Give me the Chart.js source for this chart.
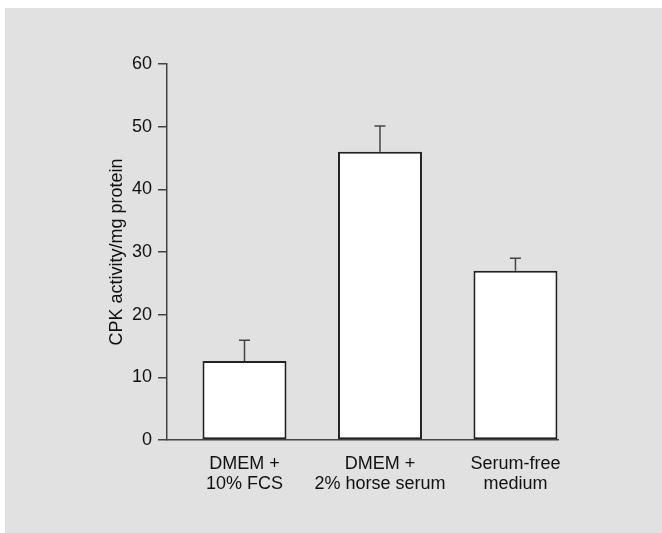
<!DOCTYPE html>
<html>
<head>
<meta charset="utf-8">
<script src="https://cdn.jsdelivr.net/npm/chart.js@4"></script>
<style>
  body { margin: 0; background: #fff; }
  #panel { position: absolute; left: 5px; top: 8px; width: 657px; height: 525px; background: #e1e1e1; }
</style>
</head>
<body>
<div id="panel"><canvas id="chart"></canvas></div>
<script>
const categories = [['DMEM +', '10% FCS'], ['DMEM +', '2% horse serum'], ['Serum-free', 'medium']];
const positions = [1, 2, 3];
const values = [12.6, 46.0, 27.0];
const errorTops = [15.9, 50.1, 29.0];
const yTicks = [0, 10, 20, 30, 40, 50, 60];

const errorBars = {
  id: 'errorBars',
  afterDatasetsDraw(chart) {
    const ctx = chart.ctx;
    const y = chart.scales.y;
    const meta = chart.getDatasetMeta(0);
    ctx.save();
    ctx.strokeStyle = '#444';
    ctx.lineWidth = 1.5;
    meta.data.forEach((bar, i) => {
      const top = y.getPixelForValue(errorTops[i]);
      ctx.beginPath();
      ctx.moveTo(bar.x, bar.y);
      ctx.lineTo(bar.x, top);
      ctx.moveTo(bar.x - 5.5, top);
      ctx.lineTo(bar.x + 5.5, top);
      ctx.stroke();
    });
    ctx.restore();
  }
};

const font = { family: '"Liberation Sans", Arial, sans-serif', size: 18, lineHeight: 1.12 };

const chart = new Chart(document.getElementById('chart'), {
  type: 'bar',
  data: {
    datasets: [{
      data: positions.map((p, i) => ({ x: p, y: values[i] })),
      backgroundColor: '#fff',
      borderColor: '#222',
      borderWidth: 2,
      borderSkipped: false,
      barPercentage: 0.62,
      categoryPercentage: 1
    }]
  },
  options: {
    responsive: true,
    maintainAspectRatio: false,
    animation: false,
    layout: { padding: { left: 102, right: 104, top: 56, bottom: 30 } },
    plugins: { legend: { display: false }, tooltip: { enabled: false } },
    scales: {
      x: {
        type: 'linear',
        offset: false,
        min: 0.428,
        max: 3.314,
        afterBuildTicks: (s) => { s.ticks = positions.map(v => ({ value: v })); },
        afterFit: (s) => { s.height = 63; },
        grid: { display: true, offset: false, drawOnChartArea: false, drawTicks: false },
        border: { color: '#444', width: 1.5 },
        ticks: {
          color: '#111',
          font: font,
          padding: 14,
          maxRotation: 0,
          autoSkip: false,
          callback: (v) => categories[positions.indexOf(v)]
        }
      },
      y: {
        min: 0,
        max: 60,
        afterBuildTicks: (s) => { s.ticks = yTicks.map(v => ({ value: v })); },
        afterFit: (s) => { s.width = 60; },
        grid: { display: true, drawOnChartArea: false, tickLength: 9, color: '#444', lineWidth: 1.5 },
        border: { color: '#444', width: 1.5 },
        ticks: { color: '#111', font: font, padding: 6 },
        title: {
          display: true,
          text: 'CPK activity/mg protein',
          color: '#111',
          font: font,
          padding: { top: 0, bottom: 0 }
        }
      }
    }
  },
  plugins: [errorBars]
});
</script>
</body>
</html>
